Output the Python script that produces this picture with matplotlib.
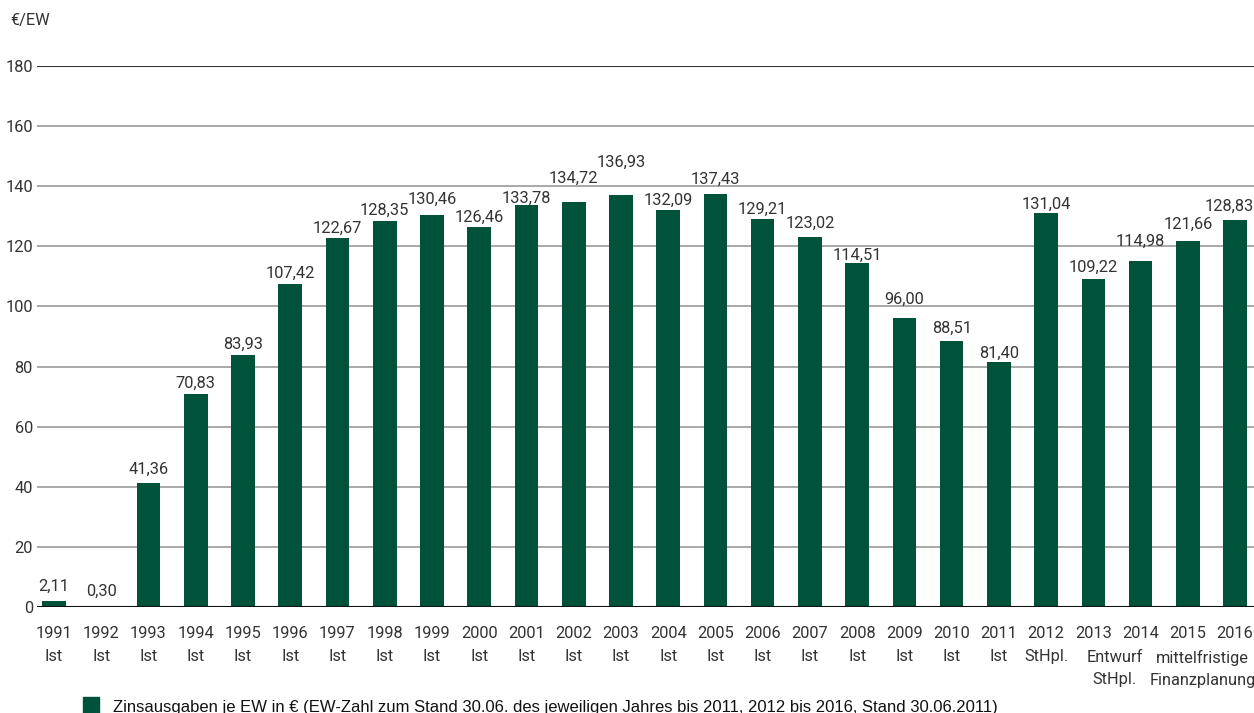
import numpy as np
import matplotlib.pyplot as plt
from matplotlib.transforms import blended_transform_factory

years = ['1991', '1992', '1993', '1994', '1995', '1996', '1997', '1998', '1999',
         '2000', '2001', '2002', '2003', '2004', '2005', '2006', '2007', '2008',
         '2009', '2010', '2011', '2012', '2013', '2014', '2015', '2016']
status = ['Ist'] * 21 + ['StHpl.', '', '', '', '']
values = [2.11, 0.30, 41.36, 70.83, 83.93, 107.42, 122.67, 128.35, 130.46,
          126.46, 133.78, 134.72, 136.93, 132.09, 137.43, 129.21, 123.02, 114.51,
          96.00, 88.51, 81.40, 131.04, 109.22, 114.98, 121.66, 128.83]
extra_labels = {'2013': 'Entwurf\nStHpl.', '2015': 'mittelfristige\nFinanzplanung'}
legend_text = 'Zinsausgaben je EW in € (EW-Zahl zum Stand 30.06. des jeweiligen Jahres bis 2011, 2012 bis 2016, Stand 30.06.2011)'

# gap in pixels between bar top and label baseline (as in the original layout)
label_gap = [10, 10, 9, 6, 6, 6, 5, 6, 11, 5, 2, 19, 29, 5, 10, 5, 9, 3, 15, 8, 5, 4, 7, 16, 13, 9]

green = '#00533A'
txt = '#333333'
font = ['Roboto', 'DejaVu Sans']
fs = 11.8
wt = 'normal'

fig = plt.figure(figsize=(12.54, 7.13), dpi=100)
ax = fig.add_axes([37 / 1254, 1 - 607 / 713, 1 - 37 / 1254, (607 - 66) / 713])

x = np.arange(len(years))
ax.bar(x, values, width=0.5, color=green, zorder=3)

for i, (xi, v, g) in enumerate(zip(x, values, label_gap)):
    dx = -4 if i == len(values) - 1 else 0  # last label pulled in from the edge
    ax.annotate(f'{v:.2f}'.replace('.', ','), (xi, v), xytext=(dx, g * 0.72),
                textcoords='offset points', ha='center', va='baseline',
                fontsize=fs, color=txt, family=font, weight=wt)

ax.set_xlim(-0.36, len(years) - 0.6)
ax.set_ylim(0, 180)
ax.set_yticks(range(0, 181, 20))
ax.set_yticklabels([str(t) for t in range(0, 181, 20)], family=font, fontsize=fs,
                   color=txt, weight=wt)
for t in range(20, 180, 20):
    ax.axhline(t, color='#9a9a9a', lw=1.2, zorder=1)
ax.axhline(180, color='#333333', lw=1.5, zorder=1)
ax.axhline(0, color='#111111', lw=1.5, zorder=4)

labels = [y + '\n' + s if s else y for y, s in zip(years, status)]
ax.set_xticks(x)
ax.set_xticklabels(labels, family=font, fontsize=fs, color=txt, weight=wt)
for lab in ax.get_xticklabels():
    lab.set_linespacing(1.65)
ax.tick_params(axis='both', length=0, pad=3)
ax.tick_params(axis='x', pad=14)

# multi-line status labels sit a bit to the right of their year
trans = blended_transform_factory(ax.transData, ax.transAxes)
shift = {'2013': 0.45, '2015': 0.31}
for y, lab in extra_labels.items():
    xi = years.index(y) + shift[y]
    ax.annotate(lab, (xi, 0), xycoords=trans, xytext=(0, -31), textcoords='offset points',
                ha='center', va='top', fontsize=fs, color=txt, family=font, weight=wt,
                linespacing=1.6, annotation_clip=False)

for s in ax.spines.values():
    s.set_visible(False)

fig.text(10 / 1254, 1 - 21 / 713, '€/EW', family=font, fontsize=fs, color=txt,
         weight=wt, va='center')

fig.patches.append(plt.Rectangle((83 / 1254, 0), 16 / 1254, 16 / 713,
                                 transform=fig.transFigure, color=green, figure=fig))
fig.text(113 / 1254, 1 - 712 / 713, legend_text, family=['Liberation Sans', 'DejaVu Sans'],
         fontsize=12, color='#111111', va='baseline')

fig.savefig('out.png', dpi=100)
